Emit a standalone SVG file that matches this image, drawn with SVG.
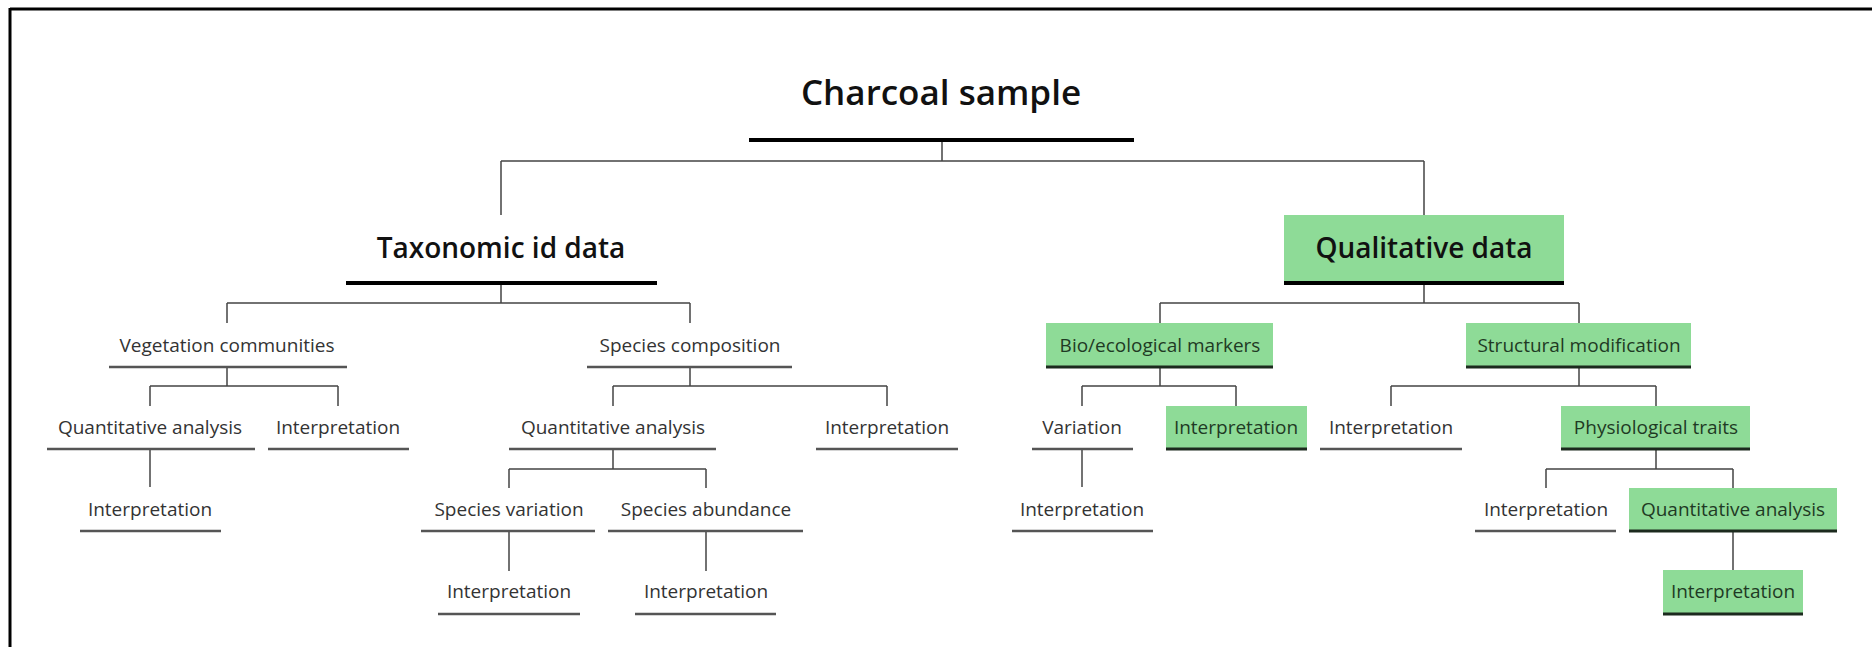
<svg xmlns="http://www.w3.org/2000/svg" width="1872" height="647" viewBox="0 0 1872 647">
<style>
text{font-family:"Open Sans","Liberation Sans",sans-serif;text-anchor:middle}
.t{font-size:19px;fill:#333}
.g{font-size:19px;fill:#1f3a24}
.ul{stroke:#555;stroke-width:2.5}
.gl{stroke:#1c2a1e;stroke-width:3}
.box{fill:#8edb97}
.con{fill:none;stroke:#444;stroke-width:1.5}
.h1{font-size:28px;font-weight:600;fill:#111}
.h0{font-size:35px;font-weight:600;fill:#111}
.thick{stroke:#000;stroke-width:4}
</style>
<rect x="0" y="0" width="1872" height="647" fill="#fff"/>
<path d="M10 9 H1872 M10 8 V647" stroke="#000" stroke-width="3" fill="none"/>
<g id="connectors" class="con">
<path d="M942 142 V161 M501 161 H1424 M501 161 V215 M1424 161 V215"/>
<path d="M501 285 V303 M227 303 H690 M227 303 V323 M690 303 V323"/>
<path d="M1424 285 V303 M1160 303 H1579 M1160 303 V323 M1579 303 V323"/>
<path d="M227 368 V386 M150 386 H338 M150 386 V406 M338 386 V406"/>
<path d="M690 368 V386 M613 386 H887 M613 386 V406 M887 386 V406"/>
<path d="M1160 368 V386 M1082 386 H1236 M1082 386 V406 M1236 386 V406"/>
<path d="M1579 368 V386 M1391 386 H1656 M1391 386 V406 M1656 386 V406"/>
<path d="M150 450 V487"/>
<path d="M613 450 V469 M509 469 H706 M509 469 V488 M706 469 V488"/>
<path d="M1082 450 V487"/>
<path d="M1656 450 V469 M1546 469 H1733 M1546 469 V488 M1733 469 V488"/>
<path d="M509 532 V571 M706 532 V571 M1733 532 V570"/>
</g>
<g id="root"><text class="h0" x="941" y="105">Charcoal sample</text><line class="thick" x1="749" y1="140" x2="1134" y2="140"/></g>
<g id="taxonomic"><text class="h1" x="501" y="258">Taxonomic id data</text><line class="thick" x1="346" y1="283" x2="657" y2="283"/></g>
<g id="qualitative"><rect class="box" x="1284" y="215" width="280" height="68"/><line class="thick" x1="1284" y1="283" x2="1564" y2="283" stroke="#112211"/><text class="h1" x="1424" y="258" fill="#10301a">Qualitative data</text></g>
<g id="vegetation"><text class="t" x="227" y="352">Vegetation communities</text><line class="ul" x1="109" y1="367" x2="347" y2="367"/></g>
<g id="species-comp"><text class="t" x="690" y="352">Species composition</text><line class="ul" x1="587" y1="367" x2="792" y2="367"/></g>
<g id="bio"><rect class="box" x="1046" y="323" width="227" height="44"/><line class="gl" x1="1046" y1="367" x2="1273" y2="367"/><text class="g" x="1160" y="352">Bio/ecological markers</text></g>
<g id="structural"><rect class="box" x="1466" y="323" width="225" height="44"/><line class="gl" x1="1466" y1="367" x2="1691" y2="367"/><text class="g" x="1579" y="352">Structural modification</text></g>
<g id="qa-veg"><text class="t" x="150" y="434">Quantitative analysis</text><line class="ul" x1="47" y1="449" x2="255" y2="449"/></g>
<g id="int-veg"><text class="t" x="338" y="434">Interpretation</text><line class="ul" x1="268" y1="449" x2="409" y2="449"/></g>
<g id="qa-sp"><text class="t" x="613" y="434">Quantitative analysis</text><line class="ul" x1="509" y1="449" x2="716" y2="449"/></g>
<g id="int-sp"><text class="t" x="887" y="434">Interpretation</text><line class="ul" x1="816" y1="449" x2="958" y2="449"/></g>
<g id="variation"><text class="t" x="1082" y="434">Variation</text><line class="ul" x1="1032" y1="449" x2="1133" y2="449"/></g>
<g id="int-bio"><rect class="box" x="1166" y="406" width="141" height="43"/><line class="gl" x1="1166" y1="449" x2="1307" y2="449"/><text class="g" x="1236" y="434">Interpretation</text></g>
<g id="int-struct"><text class="t" x="1391" y="434">Interpretation</text><line class="ul" x1="1320" y1="449" x2="1462" y2="449"/></g>
<g id="physio"><rect class="box" x="1561" y="406" width="189" height="43"/><line class="gl" x1="1561" y1="449" x2="1750" y2="449"/><text class="g" x="1656" y="434">Physiological traits</text></g>
<g id="int-qa-veg"><text class="t" x="150" y="516">Interpretation</text><line class="ul" x1="80" y1="531" x2="221" y2="531"/></g>
<g id="sp-var"><text class="t" x="509" y="516">Species variation</text><line class="ul" x1="421" y1="531" x2="595" y2="531"/></g>
<g id="sp-ab"><text class="t" x="706" y="516">Species abundance</text><line class="ul" x1="608" y1="531" x2="803" y2="531"/></g>
<g id="int-var"><text class="t" x="1082" y="516">Interpretation</text><line class="ul" x1="1012" y1="531" x2="1153" y2="531"/></g>
<g id="int-physio"><text class="t" x="1546" y="516">Interpretation</text><line class="ul" x1="1475" y1="531" x2="1616" y2="531"/></g>
<g id="qa-physio"><rect class="box" x="1629" y="488" width="208" height="43"/><line class="gl" x1="1629" y1="531" x2="1837" y2="531"/><text class="g" x="1733" y="516">Quantitative analysis</text></g>
<g id="int-sv"><text class="t" x="509" y="598">Interpretation</text><line class="ul" x1="438" y1="614" x2="580" y2="614"/></g>
<g id="int-sa"><text class="t" x="706" y="598">Interpretation</text><line class="ul" x1="635" y1="614" x2="776" y2="614"/></g>
<g id="int-qa-physio"><rect class="box" x="1663" y="570" width="140" height="44"/><line class="gl" x1="1663" y1="614" x2="1803" y2="614"/><text class="g" x="1733" y="598">Interpretation</text></g>
</svg>
